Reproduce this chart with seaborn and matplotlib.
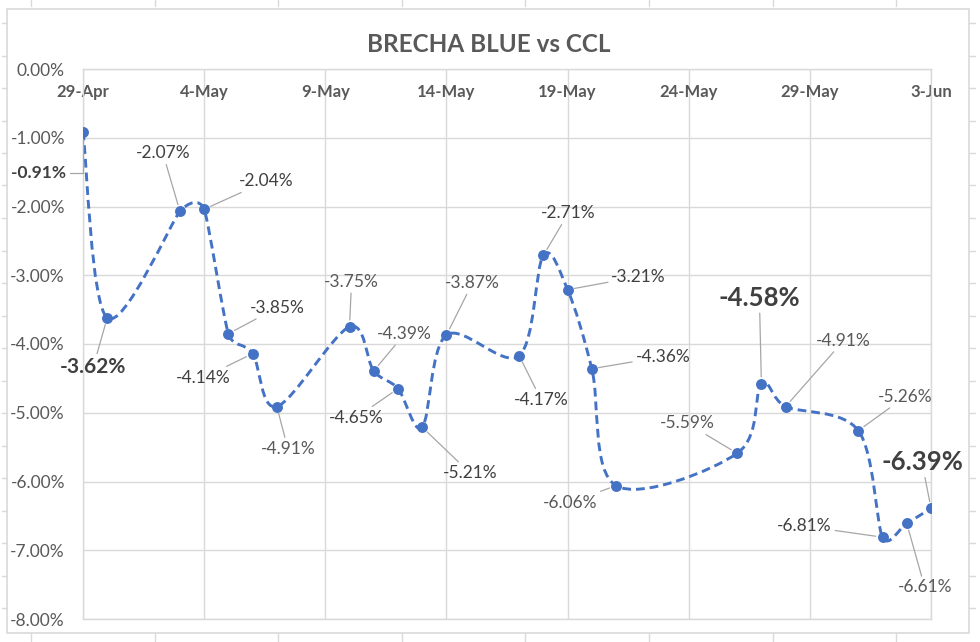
import numpy as np
import pandas as pd
import matplotlib
matplotlib.use("Agg")
import matplotlib.pyplot as plt
import matplotlib.dates as mdates
from matplotlib.path import Path
from matplotlib.patches import PathPatch, Rectangle
from matplotlib.lines import Line2D
import seaborn as sns

# ---------------- data ----------------
title = "BRECHA BLUE vs CCL"
dates = ["2021-04-29", "2021-04-30", "2021-05-03", "2021-05-04", "2021-05-05",
         "2021-05-06", "2021-05-07", "2021-05-10", "2021-05-11", "2021-05-12",
         "2021-05-13", "2021-05-14", "2021-05-17", "2021-05-18", "2021-05-19",
         "2021-05-20", "2021-05-21", "2021-05-26", "2021-05-27", "2021-05-28",
         "2021-05-31", "2021-06-01", "2021-06-02", "2021-06-03"]
brecha = [-0.91, -3.62, -2.07, -2.04, -3.85, -4.14, -4.91, -3.75, -4.39, -4.65,
          -5.21, -3.87, -4.17, -2.71, -3.21, -4.36, -6.06, -5.59, -4.58, -4.91,
          -5.26, -6.81, -6.61, -6.39]
x_ticks = ["2021-04-29", "2021-05-04", "2021-05-09", "2021-05-14",
           "2021-05-19", "2021-05-24", "2021-05-29", "2021-06-03"]
y_ticks = [0, -1, -2, -3, -4, -5, -6, -7, -8]

# label placement (pixel offsets from point, y downward) and styles
label_offsets = [(-44, 41), (-14, 49), (-17, -58), (62, -28), (49, -26), (-49, 24),
                 (11, 42), (2, -45), (31, -37), (-42, 29), (48, 46), (26, -52),
                 (22, 44), (25, -42), (71, -13), (71, -12), (-46, 17), (-50, -30),
                 (-2, -86), (58, -66), (47, -34), (-78, -11), (18, 64), (-9, -46)]
big = {1: 15, 18: 18.5, 23: 18.5}
dark = {0, 2, 3, 4, 5, 9, 10, 12, 13, 14, 15, 21}
bold = {0}
elbow = {0}

FONT = "Lato"
BLUE = "#4472C4"
GRID = "#d9d9d9"
TXT = "#595959"

sns.set_style("white")
plt.rcParams["font.family"] = [FONT, "DejaVu Sans"]

W, H = 980, 642
fig = plt.figure(figsize=(W / 100, H / 100), dpi=100)
ax = fig.add_axes([83 / W, 1 - 619 / H, (931 - 83) / W, (619 - 69) / H])

df = pd.DataFrame({"fecha": pd.to_datetime(dates), "brecha": brecha})
xn = mdates.date2num(df["fecha"])
yv = df["brecha"].to_numpy()

# axes limits first (needed for display-space smoothing)
ax.set_xlim(pd.Timestamp(x_ticks[0]), pd.Timestamp(x_ticks[-1]))
ax.set_ylim(min(y_ticks), max(y_ticks))

# Excel-style smoothed bezier, computed in display space from the data points
pts = ax.transData.transform(np.column_stack([xn, yv]))
n = len(pts)

def arm(p_prev, p_cur, p_next):
    d02 = np.linalg.norm(p_next - p_prev)
    if d02 == 0:
        return np.zeros(2)
    d01 = np.linalg.norm(p_cur - p_prev)
    d12 = np.linalg.norm(p_next - p_cur)
    length = min(d02 / 6.0, d01 / 2.0 if d01 > 0 else d02 / 6.0,
                 d12 / 2.0 if d12 > 0 else d02 / 6.0)
    return (p_next - p_prev) / d02 * length

verts_disp = [pts[0]]
codes = [Path.MOVETO]
for i in range(n - 1):
    p0 = pts[max(i - 1, 0)]
    p1 = pts[i]
    p2 = pts[i + 1]
    p3 = pts[min(i + 2, n - 1)]
    c1 = p1 + arm(p0, p1, p2)
    c2 = p2 - arm(p1, p2, p3)
    verts_disp += [c1, c2, p2]
    codes += [Path.CURVE4] * 3
verts = ax.transData.inverted().transform(np.array(verts_disp))
ax.add_patch(PathPatch(Path(verts, codes), fill=False, edgecolor=BLUE, lw=2.1,
                       linestyle=(0, (3.0, 1.7)), capstyle="butt", zorder=3))

sns.scatterplot(data=df, x="fecha", y="brecha", ax=ax, color=BLUE, s=62,
                edgecolor=BLUE, linewidth=0, zorder=4, legend=False)

# axes styling
ax.set_xlim(pd.Timestamp(x_ticks[0]), pd.Timestamp(x_ticks[-1]))
ax.set_ylim(min(y_ticks), max(y_ticks))
ax.set_xticks(pd.to_datetime(x_ticks))
ax.xaxis.set_major_formatter(mdates.DateFormatter("%-d-%b"))
ax.set_yticks(y_ticks)
ax.set_yticklabels([f"{v:.2f}%" for v in y_ticks])
ax.xaxis.tick_top()
ax.tick_params(axis="x", top=False, bottom=False, labeltop=True, labelbottom=False,
               length=0, pad=-22, labelsize=12, labelcolor=TXT)
for lab in ax.get_xticklabels():
    lab.set_fontweight("bold")
ax.tick_params(axis="y", left=False, length=0, pad=13, labelsize=12.5, labelcolor=TXT)
ax.grid(True, color=GRID, lw=1.0)
ax.set_axisbelow(True)
for s in ax.spines.values():
    s.set_color(GRID)
    s.set_linewidth(1.0)
ax.set_xlabel("")
ax.set_ylabel("")

# data labels
for i, (x, v, (dx, dy)) in enumerate(zip(xn, yv, label_offsets)):
    size = big.get(i, 12.5)
    weight = "bold" if (i in big or i in bold) else "normal"
    col = "#404040" if (i in big or i in dark) else "#595959"
    conn = "angle,angleA=0,angleB=90,rad=0" if i in elbow else "arc3"
    ax.annotate(f"{v:.2f}%", xy=(x, v), xytext=(dx, -dy), textcoords="offset pixels",
                ha="center", va="center", fontsize=size, fontweight=weight, color=col,
                zorder=5,
                arrowprops=dict(arrowstyle="-", color="#a6a6a6", lw=0.9,
                                shrinkA=0, shrinkB=5, connectionstyle=conn))

# title
fig.text(489 / W, 1 - 45 / H, title, ha="center", va="center", fontsize=17.5,
         fontweight="bold", color=TXT)

# chart-area border and outer screenshot tick marks
def P(x, y):
    return (x / W, 1 - y / H)

fig.add_artist(Rectangle(P(7, 633), (969 - 7) / W, (633 - 9) / H, transform=fig.transFigure,
                         fill=False, edgecolor=GRID, lw=1.2))
for k in range(8):
    xx = 31 + 123.6 * k
    fig.add_artist(Line2D([xx / W, xx / W], [P(0, 0)[1], P(0, 6)[1]], transform=fig.transFigure, color=GRID, lw=1))
    fig.add_artist(Line2D([xx / W, xx / W], [P(0, 633)[1], P(0, 641)[1]], transform=fig.transFigure, color=GRID, lw=1))
for k in range(19):
    yy = 1 - (23 + 32.5 * k) / H
    fig.add_artist(Line2D([2 / W, 7 / W], [yy, yy], transform=fig.transFigure, color=GRID, lw=1))
    fig.add_artist(Line2D([969 / W, 975 / W], [yy, yy], transform=fig.transFigure, color=GRID, lw=1))

fig.savefig("out.png", dpi=100, facecolor="white")
